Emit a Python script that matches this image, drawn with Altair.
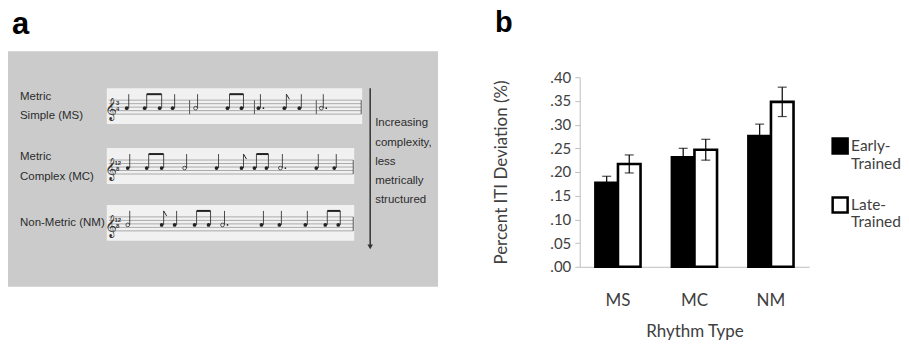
import altair as alt
import pandas as pd

# ---------------- Panel b data ----------------
rhythm_types = ["MS", "MC", "NM"]
groups = ["Early-Trained", "Late-Trained"]
early_means = [0.177, 0.231, 0.276]
late_means = [0.217, 0.247, 0.348]
early_errs = [0.014, 0.019, 0.025]
late_errs = [0.019, 0.022, 0.031]
y_ticks = [0.0, 0.05, 0.10, 0.15, 0.20, 0.25, 0.30, 0.35, 0.40]

# ---------------- Panel a data (illustration) ----------------
box_x = [8, 439]
box_y = [52, 288]
strip_x1 = [107, 107, 107]
strip_x2 = [363, 355, 355]
strip_top = [89, 149, 206]
strip_bottom = [125, 185, 242]

left_label_lines = ["Metric", "Simple (MS)", "Metric", "Complex (MC)", "Non-Metric  (NM)"]
left_label_x = [20, 20, 20, 20, 20]
left_label_y = [98, 117, 158, 178, 224]

right_label_lines = ["Increasing", "complexity,", "less", "metrically", "structured"]
right_label_x = [376, 376, 376, 376, 376]
right_label_y = [124, 144, 163, 182, 201]

arrow_x = 371
arrow_y = [89, 250]

staff_note_x = [
    [127, 145, 160, 173, 196, 228, 242, 259, 285, 300, 322],
    [128, 147, 162, 185, 217, 242, 255, 267, 281, 317, 335],
    [128, 162, 175, 195, 209, 223, 262, 280, 306, 326, 339],
]
staff_note_kind = [
    ["q", "b", "b", "q", "h", "b", "b", "dq", "e", "q", "dh"],
    ["q", "b", "b", "h", "q", "e", "b", "b", "dh", "q", "q"],
    ["h", "e", "q", "b", "b", "dh", "q", "q", "q", "b", "b"],
]
staff_beams = [
    [(145, 160), (228, 242)],
    [(147, 162), (255, 267)],
    [(195, 209), (326, 339)],
]
staff_barlines = [
    [190, 255, 317, 362],
    [354],
    [354],
]
time_sig_top = ["3", "12", "12"]
time_sig_bottom = ["4", "8", "8"]

# ---------------- Panel a construction ----------------
X = lambda f: alt.X(f, type="quantitative", scale=alt.Scale(domain=[8, 440], nice=False, zero=False), axis=None)
Y = lambda f: alt.Y(f, type="quantitative", scale=alt.Scale(domain=[78, 288], nice=False, zero=False, reverse=True), axis=None)

bg = alt.Chart(pd.DataFrame({"x1": [box_x[0]], "x2": [box_x[1]], "y1": [box_y[0]], "y2": [box_y[1]]})).mark_rect(
    color="#cbcbcb"
).encode(x=X("x1"), x2="x2", y=Y("y1"), y2="y2")

strips_df = pd.DataFrame({"x1": strip_x1, "x2": strip_x2, "y1": strip_top, "y2": strip_bottom})
strips = alt.Chart(strips_df).mark_rect(color="#f1f1f1").encode(x=X("x1"), x2="x2", y=Y("y1"), y2="y2")

staff_rows = []
bar_rows = []
stem_rows = []
beam_rows = []
head_rows = []
dot_rows = []
flag_rows = []
sig_rows = []
clef_rows = []
for s in range(3):
    top = strip_top[s]
    line_ys = [top + 12 + i * 3.5 for i in range(5)]
    for ly in line_ys:
        staff_rows.append({"x1": strip_x1[s] + 2, "x2": strip_x2[s] - 1, "y": ly})
    for bx in staff_barlines[s]:
        bar_rows.append({"x": bx, "y1": line_ys[0], "y2": line_ys[-1]})
    head_y = top + 20
    stem_top = top + 6
    for nx, kind in zip(staff_note_x[s], staff_note_kind[s]):
        head_rows.append({"x": nx, "y": head_y, "filled": kind not in ("h", "dh")})
        stem_rows.append({"x": nx + 2, "y1": head_y, "y2": stem_top})
        if kind in ("dq", "dh"):
            dot_rows.append({"x": nx + 5, "y": head_y})
        if kind == "e":
            flag_rows.append({"x1": nx + 2, "x2": nx + 5, "y1": stem_top, "y2": stem_top + 5})
    for b1, b2 in staff_beams[s]:
        beam_rows.append({"x1": b1 + 2, "x2": b2 + 2, "y": stem_top})
    clef_rows.append({"x": 111, "y": top + 21, "t": "\U0001D11E"})
    sig_rows.append({"x": 118, "y": top + 15, "t": time_sig_top[s]})
    sig_rows.append({"x": 118, "y": top + 21, "t": time_sig_bottom[s]})

staff_lines = alt.Chart(pd.DataFrame(staff_rows)).mark_rule(color="#8a8a8a", strokeWidth=0.7).encode(
    x=X("x1"), x2="x2", y=Y("y"))
bar_lines = alt.Chart(pd.DataFrame(bar_rows)).mark_rule(color="#555", strokeWidth=1).encode(
    x=X("x"), y=Y("y1"), y2="y2")
stems = alt.Chart(pd.DataFrame(stem_rows)).mark_rule(color="#222", strokeWidth=0.8).encode(
    x=X("x"), y=Y("y1"), y2="y2")
beams = alt.Chart(pd.DataFrame(beam_rows)).mark_rule(color="#222", strokeWidth=2).encode(
    x=X("x1"), x2="x2", y=Y("y"))
flags = alt.Chart(pd.DataFrame(flag_rows)).mark_rule(color="#222", strokeWidth=1).encode(
    x=X("x1"), x2="x2", y=Y("y1"), y2="y2")
heads_df = pd.DataFrame(head_rows)
heads_f = alt.Chart(heads_df[heads_df["filled"]]).mark_point(
    filled=True, color="#222", size=14, shape="circle", opacity=1).encode(x=X("x"), y=Y("y"))
heads_h = alt.Chart(heads_df[~heads_df["filled"]]).mark_point(
    filled=False, color="#333", size=14, shape="circle", strokeWidth=0.8, opacity=1).encode(x=X("x"), y=Y("y"))
dots = alt.Chart(pd.DataFrame(dot_rows)).mark_point(
    filled=True, color="#222", size=3, opacity=1).encode(x=X("x"), y=Y("y"))
clefs = alt.Chart(pd.DataFrame(clef_rows)).mark_text(
    font="DejaVu Sans", fontSize=20, color="#333", baseline="middle").encode(x=X("x"), y=Y("y"), text="t:N")
sigs = alt.Chart(pd.DataFrame(sig_rows)).mark_text(
    font="Liberation Sans", fontSize=6, fontWeight="bold", color="#333", baseline="middle").encode(
    x=X("x"), y=Y("y"), text="t:N")

left_labels = alt.Chart(pd.DataFrame({"x": left_label_x, "y": left_label_y, "t": left_label_lines})).mark_text(
    font="Liberation Sans", fontSize=11.5, color="#2b2b2b", align="left", baseline="middle").encode(
    x=X("x"), y=Y("y"), text="t:N")
right_labels = alt.Chart(pd.DataFrame({"x": right_label_x, "y": right_label_y, "t": right_label_lines})).mark_text(
    font="Liberation Sans", fontSize=11.5, color="#2b2b2b", align="left", baseline="middle").encode(
    x=X("x"), y=Y("y"), text="t:N")

arrow_line = alt.Chart(pd.DataFrame({"x": [arrow_x], "y1": [arrow_y[0]], "y2": [arrow_y[1] - 3]})).mark_rule(
    color="#333", strokeWidth=1.5).encode(x=X("x"), y=Y("y1"), y2="y2")
arrow_head = alt.Chart(pd.DataFrame({"x": [arrow_x], "y": [arrow_y[1] - 2]})).mark_point(
    shape="triangle-down", filled=True, color="#333", size=30, opacity=1).encode(x=X("x"), y=Y("y"))

panel_letter_a = alt.Chart(pd.DataFrame({"x": [12], "y": [35], "t": ["a"]})).mark_text(
    font="Liberation Sans", fontSize=31, fontWeight="bold", color="black", align="left",
    baseline="alphabetic").encode(x=X("x"), y=Y("y"), text="t:N")

panel_a = alt.layer(
    bg, strips, staff_lines, bar_lines, stems, beams, flags, heads_f, heads_h, dots, clefs, sigs,
    left_labels, right_labels, arrow_line, arrow_head, panel_letter_a
).properties(width=432, height=210)

# ---------------- Panel b construction ----------------
rows = []
for i, r in enumerate(rhythm_types):
    for g, m, e in ((groups[0], early_means[i], early_errs[i]), (groups[1], late_means[i], late_errs[i])):
        rows.append({"rhythm": r, "group": g, "mean": m, "lo": m - e, "hi": m + e})
df = pd.DataFrame(rows)

txt = "#404040"
y_scale = alt.Scale(domain=[0, 0.4], nice=False)
y_axis = alt.Axis(title="Percent ITI Deviation (%)", values=y_ticks,
                  labelExpr="replace(format(datum.value, '.2f'), '0.', '.')",
                  labelOverlap=False,
                  grid=False, domainColor="#bfbfbf", tickColor="#bfbfbf", tickSize=5,
                  labelFontSize=15, labelPadding=4, titlePadding=39, titleFontSize=17,
                  labelFont="Lato", titleFont="Lato", labelColor=txt, titleColor=txt,
                  titleFontWeight="normal")

base = alt.Chart(df).encode(
    x=alt.X("rhythm:N", sort=rhythm_types,
            scale=alt.Scale(paddingInner=0.41, paddingOuter=0.205),
            axis=alt.Axis(title="Rhythm Type", labelAngle=0, ticks=False, domainColor="#bfbfbf",
                          labelPadding=26, titlePadding=15, labelFontSize=17, titleFontSize=17,
                          labelFont="Lato", titleFont="Lato", labelColor=txt, titleColor=txt,
                          titleFontWeight="normal")),
    xOffset=alt.XOffset("group:N", sort=groups, scale=alt.Scale(paddingInner=0, paddingOuter=0)),
)

bars = base.mark_bar(stroke="black", strokeWidth=2.6).encode(
    y=alt.Y("mean:Q", scale=y_scale, axis=y_axis, title="Percent ITI Deviation (%)"),
    fill=alt.Fill("group:N", sort=groups, scale=alt.Scale(domain=groups, range=["black", "white"]),
                  legend=alt.Legend(title=None, orient="none", legendX=825, legendY=60,
                                    symbolType="square", symbolSize=225, symbolStrokeColor="black",
                                    symbolStrokeWidth=2.5, labelFontSize=15.5, labelFont="Lato",
                                    labelColor=txt, labelLimit=0, rowPadding=20, labelOffset=2,
                                    labelExpr="[split(datum.label, '-')[0] + '-', split(datum.label, '-')[1]]")),
)
err_rule = base.mark_rule(color="black", strokeWidth=1.2).encode(
    y=alt.Y("lo:Q", scale=y_scale, axis=y_axis, title="Percent ITI Deviation (%)"), y2="hi:Q")
cap_lo = base.mark_tick(color="black", thickness=1.2, size=9).encode(
    y=alt.Y("lo:Q", scale=y_scale, axis=y_axis, title="Percent ITI Deviation (%)"))
cap_hi = base.mark_tick(color="black", thickness=1.2, size=9).encode(
    y=alt.Y("hi:Q", scale=y_scale, axis=y_axis, title="Percent ITI Deviation (%)"))

panel_b = alt.layer(bars, err_rule, cap_lo, cap_hi).properties(
    width=230, height=190,
    title=alt.TitleParams("b", anchor="start", font="Liberation Sans", fontSize=29, fontWeight="bold",
                          color="black", dx=2, offset=32),
)

chart = alt.hconcat(panel_a, panel_b, spacing=54).properties(
    padding={"left": 0, "top": 1, "right": 0, "bottom": 0}
).configure_view(stroke=None)

chart.save("out.html", embed_options={"renderer": "svg", "actions": False})
